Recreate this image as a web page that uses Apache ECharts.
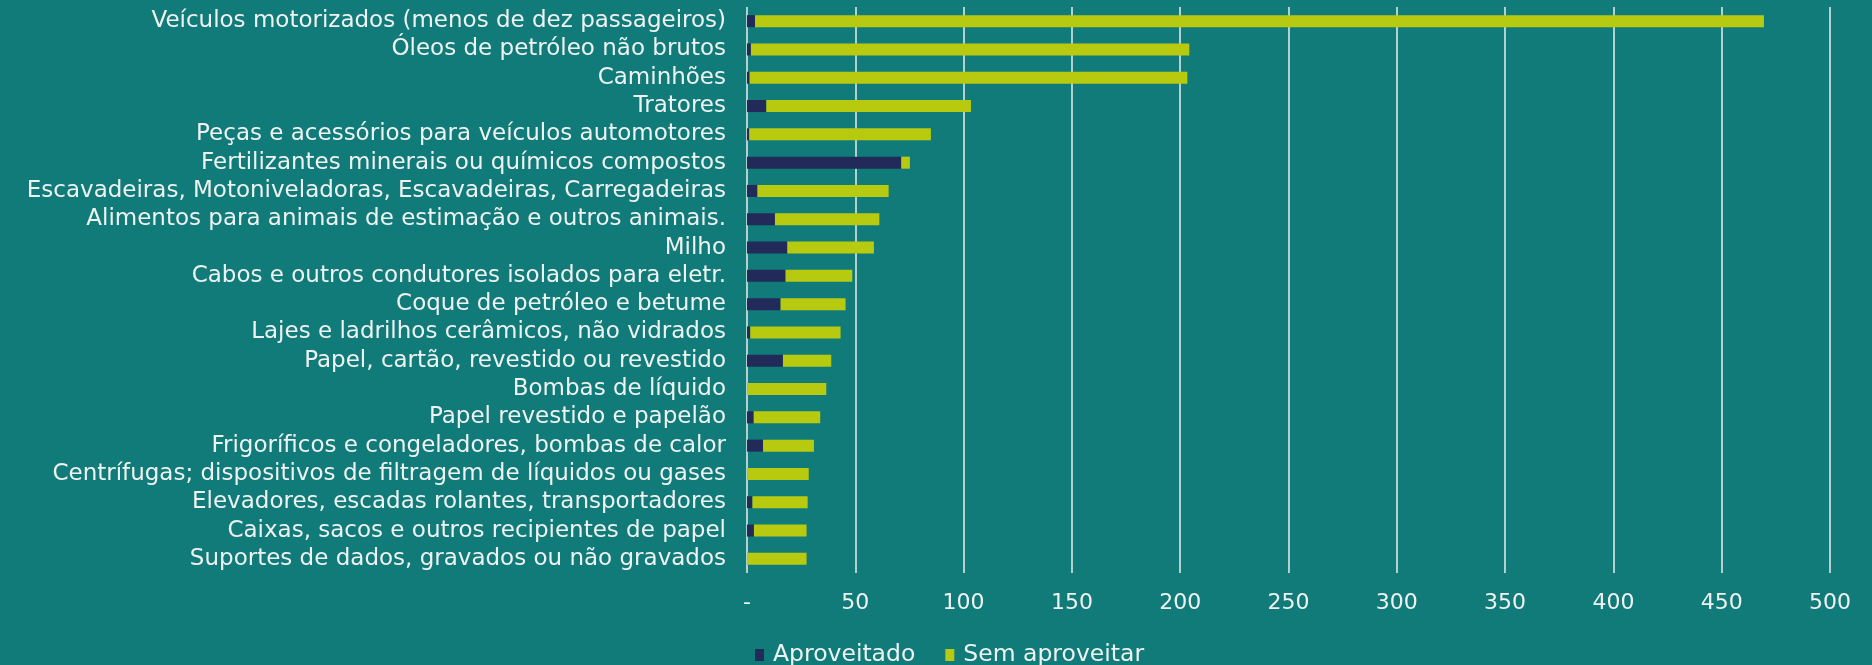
<!DOCTYPE html>
<html>
<head>
<meta charset="utf-8">
<script src="https://cdn.jsdelivr.net/npm/echarts@6/dist/echarts.min.js"></script>
<style>
html,body{margin:0;padding:0;background:#107b78;}
#c{width:1872px;height:665px;}
</style>
</head>
<body>
<div id="c"></div>
<script>
var categories = [
  "Veículos motorizados (menos de dez passageiros)",
  "Óleos de petróleo não brutos",
  "Caminhões",
  "Tratores",
  "Peças e acessórios para veículos automotores",
  "Fertilizantes minerais ou químicos compostos",
  "Escavadeiras, Motoniveladoras, Escavadeiras, Carregadeiras",
  "Alimentos para animais de estimação e outros animais.",
  "Milho",
  "Cabos e outros condutores isolados para eletr.",
  "Coque de petróleo e betume",
  "Lajes e ladrilhos cerâmicos, não vidrados",
  "Papel, cartão, revestido ou revestido",
  "Bombas de líquido",
  "Papel revestido e papelão",
  "Frigoríficos e congeladores, bombas de calor",
  "Centrífugas; dispositivos de filtragem de líquidos ou gases",
  "Elevadores, escadas rolantes, transportadores",
  "Caixas, sacos e outros recipientes de papel",
  "Suportes de dados, gravados ou não gravados"
];
var aproveitado = [3.7, 1.8, 1.2, 8.9, 1.0, 71.2, 4.8, 12.9, 18.6, 17.8, 15.5, 1.5, 16.6, 0.1, 3.1, 7.4, 0.1, 2.5, 3.2, 0.1];
var semAproveitar = [465.8, 202.4, 202.1, 94.5, 83.9, 4.0, 60.6, 48.2, 40.0, 30.8, 30.0, 41.7, 22.3, 36.5, 30.7, 23.5, 28.4, 25.5, 24.3, 27.4];
var seriesNames = ["Aproveitado", "Sem aproveitar"];

var FONT = "DejaVu Sans";
var TXT = "#eef3f2";
var chart = echarts.init(document.getElementById('c'), null, {renderer: 'canvas'});
chart.setOption({
  backgroundColor: '#107b78',
  animation: false,
  textStyle: {fontFamily: FONT},
  grid: {left: 747, right: 42, top: 7, bottom: 92, containLabel: false},
  legend: {
    left: 750, top: 638,
    itemWidth: 9, itemHeight: 12, itemGap: 30,
    icon: 'rect',
    textStyle: {color: TXT, fontSize: 23.5, fontFamily: FONT, padding: [0, 0, 0, 4]},
    data: seriesNames
  },
  xAxis: {
    type: 'value', min: 0, max: 500, interval: 50,
    axisLine: {show: false}, axisTick: {show: false},
    splitLine: {show: true, lineStyle: {color: '#e4eeee', width: 1.5}},
    axisLabel: {
      color: TXT, fontSize: 22, fontFamily: FONT, margin: 19,
      formatter: function (v) { return v === 0 ? '-' : String(v); }
    }
  },
  yAxis: {
    type: 'category', inverse: true, data: categories,
    axisLine: {show: false}, axisTick: {show: false},
    axisLabel: {color: TXT, fontSize: 23, fontFamily: FONT, margin: 21, interval: 0}
  },
  series: [
    {name: seriesNames[0], type: 'bar', stack: 't', data: aproveitado, barWidth: 12,
     itemStyle: {color: '#212a59'}},
    {name: seriesNames[1], type: 'bar', stack: 't', data: semAproveitar, barWidth: 12,
     itemStyle: {color: '#b8ca10'}}
  ]
});
</script>
</body>
</html>
